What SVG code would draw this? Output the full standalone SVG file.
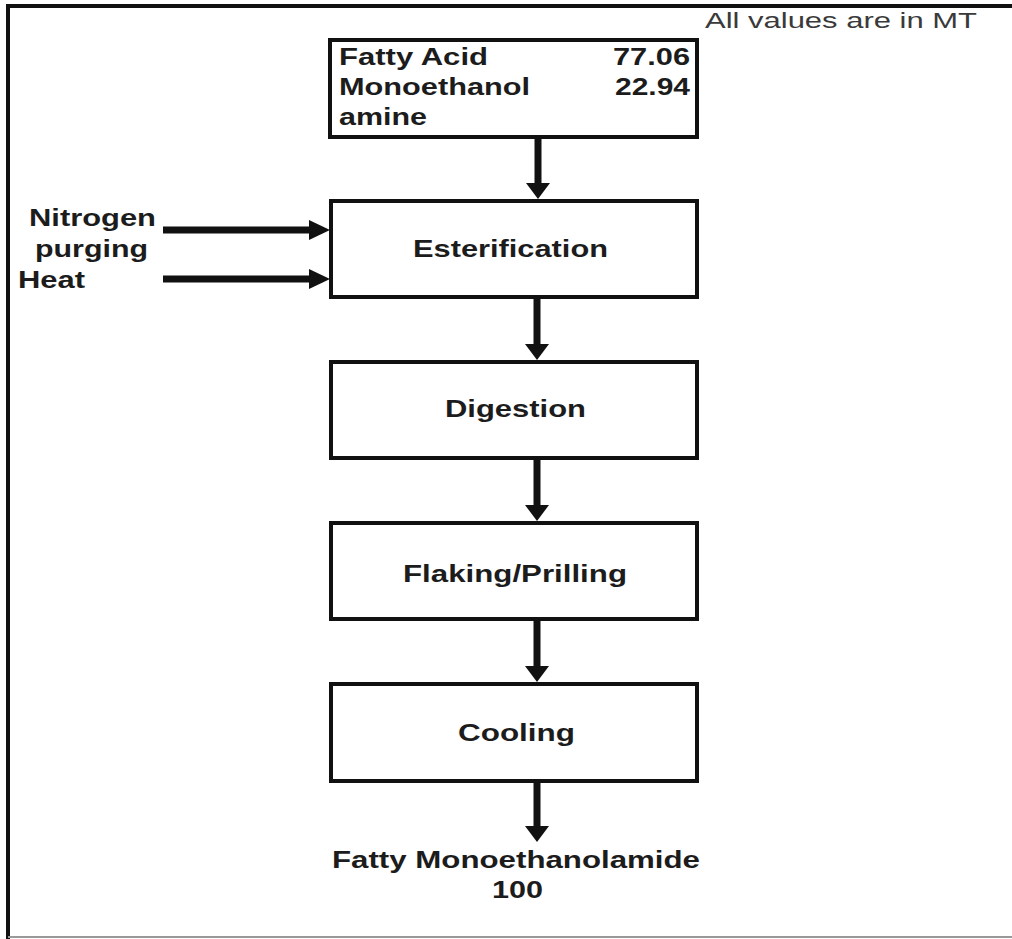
<svg xmlns="http://www.w3.org/2000/svg" width="1012" height="939" viewBox="0 0 1012 939">
  <style>
    .box { fill: #fff; stroke: #111; stroke-width: 4; }
    .lbl { font-family: "Liberation Sans", Arial, sans-serif; font-weight: bold; font-size: 24px; fill: #1c1c1c; }
    .note { font-family: "Liberation Sans", Arial, sans-serif; font-size: 22px; fill: #3a3a3a; }
    .flow { stroke: #111; stroke-width: 7; fill: none; }
    .down { marker-end: url(#headDown); }
    .side { marker-end: url(#headSide); }
  </style>
  <defs>
    <!-- heads are anchored near their base so the shaft ends inside them -->
    <marker id="headDown" markerUnits="userSpaceOnUse" markerWidth="26" markerHeight="26" refX="2" refY="12" orient="auto">
      <path d="M0,0 L16,12 L0,24 Z" fill="#111"/>
    </marker>
    <marker id="headSide" markerUnits="userSpaceOnUse" markerWidth="26" markerHeight="26" refX="2" refY="10" orient="auto">
      <path d="M0,0 L21,10 L0,20 Z" fill="#111"/>
    </marker>
  </defs>

  <rect width="1012" height="939" fill="#fff"/>

  <!-- outer frame -->
  <g id="frame">
    <line x1="6" y1="6" x2="1012" y2="6" stroke="#111" stroke-width="4"/>
    <line x1="8" y1="4" x2="8" y2="939" stroke="#111" stroke-width="4"/>
    <line x1="8" y1="937" x2="1012" y2="937" stroke="#999" stroke-width="2"/>
  </g>

  <text class="note" x="705" y="28" textLength="272" lengthAdjust="spacingAndGlyphs">All values are in MT</text>

  <!-- connectors -->
  <g id="connectors">
    <line class="flow down" x1="538" y1="137" x2="538" y2="185"/>
    <line class="flow side" x1="163" y1="230" x2="311" y2="230"/>
    <line class="flow side" x1="163" y1="279" x2="311" y2="279"/>
    <line class="flow down" x1="537" y1="297" x2="537" y2="346"/>
    <line class="flow down" x1="537" y1="458" x2="537" y2="507"/>
    <line class="flow down" x1="537" y1="619" x2="537" y2="668"/>
    <line class="flow down" x1="537" y1="781" x2="537" y2="828"/>
  </g>

  <g id="feed">
    <rect class="box" x="330" y="40" width="367" height="97"/>
    <text class="lbl" x="339" y="65" textLength="149" lengthAdjust="spacingAndGlyphs">Fatty Acid</text>
    <text class="lbl" x="613" y="65" textLength="77" lengthAdjust="spacingAndGlyphs">77.06</text>
    <text class="lbl" x="339" y="95" textLength="191" lengthAdjust="spacingAndGlyphs">Monoethanol</text>
    <text class="lbl" x="615" y="95" textLength="75" lengthAdjust="spacingAndGlyphs">22.94</text>
    <text class="lbl" x="339" y="125" textLength="88" lengthAdjust="spacingAndGlyphs">amine</text>
  </g>

  <g id="inputs">
    <text class="lbl" x="29" y="226" textLength="127" lengthAdjust="spacingAndGlyphs">Nitrogen</text>
    <text class="lbl" x="35" y="257" textLength="113" lengthAdjust="spacingAndGlyphs">purging</text>
    <text class="lbl" x="18" y="288" textLength="67" lengthAdjust="spacingAndGlyphs">Heat</text>
  </g>

  <g id="esterification">
    <rect class="box" x="331" y="201" width="366" height="96"/>
    <text class="lbl" x="413" y="257" textLength="195" lengthAdjust="spacingAndGlyphs">Esterification</text>
  </g>

  <g id="digestion">
    <rect class="box" x="331" y="362" width="366" height="96"/>
    <text class="lbl" x="445" y="417" textLength="141" lengthAdjust="spacingAndGlyphs">Digestion</text>
  </g>

  <g id="flaking">
    <rect class="box" x="331" y="523" width="366" height="96"/>
    <text class="lbl" x="403" y="582" textLength="224" lengthAdjust="spacingAndGlyphs">Flaking/Prilling</text>
  </g>

  <g id="cooling">
    <rect class="box" x="331" y="684" width="366" height="97"/>
    <text class="lbl" x="458" y="741" textLength="117" lengthAdjust="spacingAndGlyphs">Cooling</text>
  </g>

  <g id="product">
    <text class="lbl" x="332" y="868" textLength="368" lengthAdjust="spacingAndGlyphs">Fatty Monoethanolamide</text>
    <text class="lbl" x="492" y="898" textLength="51" lengthAdjust="spacingAndGlyphs">100</text>
  </g>
</svg>
